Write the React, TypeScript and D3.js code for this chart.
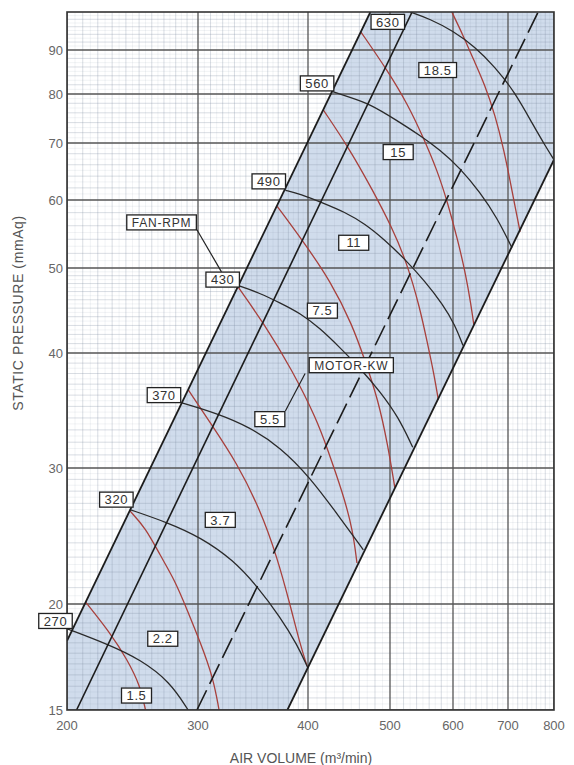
import React, { useMemo } from "react";
import * as d3 from "d3";

// ---------- axis values ----------
const xTicks = [200, 300, 400, 500, 600, 700, 800];
const yTicks = [15, 20, 30, 40, 50, 60, 70, 80, 90];
const yTop = 100;

// ---------- boundary lines [air volume, static pressure] ----------
const lineA = [[200, 18.1], [474, 100]];
const lineB = [[206, 15], [533, 100]];
const lineD = [[299, 15], [764, 100]];
const lineE = [[379, 15], [800, 66.9]];
const shadedRegion = [[200, 18.1], [474, 100], [800, 100], [800, 66.9], [379, 15], [200, 15]];

// ---------- fan curves (black) ----------
const rpm270 = [[200, 18.7], [228, 17.9], [251, 17.2], [275, 16.2], [291, 15]];
const rpm320 = [[243, 26.5], [273, 25.5], [302, 24.4], [329, 22.8], [350, 21.1], [372, 19.3], [389, 17.9], [400, 16.8]];
const rpm370 = [[285.5, 35.3], [315, 34.4], [344, 33.2], [372, 31.6], [402, 29.2], [436, 25.9], [465, 23.5]];
const rpm430 = [[332, 47.8], [353, 46.8], [372, 45.6], [392, 44.4], [413, 42.7], [436, 40.6], [461, 38.5], [487, 36.3], [512, 34.1], [534, 31.6]];
const rpm490 = [[377, 61.6], [392, 61.0], [417, 59.5], [442, 58.1], [467, 56.3], [493, 53.9], [522, 51.2], [553, 48.3], [583, 45.4], [603, 43.1], [617, 40.8]];
const rpm560 = [[426, 80.6], [448, 79.3], [474, 77.8], [507, 74.7], [545, 71.5], [578, 68.7], [612, 65.4], [647, 61.3], [679, 57.2], [708, 52.8]];
const rpm630 = [[530, 100], [561, 98.1], [600, 94.9], [638, 90.8], [675, 86.0], [714, 80.4], [753, 73.5], [779, 69.6], [800, 66.9]];

// ---------- motor power curves (red) ----------
const kw1_5 = [[212, 20.1], [228.5, 18.5], [241, 17.2], [251, 16.0], [255, 15]];
const kw2_2 = [[243, 26.4], [255, 25.1], [267, 23.1], [279, 21.5], [290, 19.7], [302, 18.0], [312, 16.4], [317, 15]];
const kw3_7 = [[291, 36.5], [311, 33.4], [332, 30.4], [353, 26.5], [369, 23.0], [382, 19.9], [392, 17.9], [399, 16.9]];
const kw5_5 = [[332, 47.8], [356, 43.3], [384, 38.3], [410, 33.8], [421, 31.6], [440, 27.8], [452, 24.9], [457, 22.6]];
const kw7_5 = [[369, 59.0], [394, 53.9], [426, 48.2], [451, 43.1], [467, 39.3], [484, 35.6], [497, 31.8], [507, 28.3]];
const kw11 = [[417, 76.6], [447, 69.1], [477, 61.6], [503, 55.7], [525, 50.7], [545, 45.1], [558, 40.8], [568, 37.9], [575, 35.6]];
const kw15 = [[462, 94.6], [497, 85.1], [527, 77.6], [550, 71.2], [573, 65.1], [591, 59.5], [608, 53.9], [622, 49.1], [631, 45.4], [636, 43.1]];
const kw18_5 = [[598, 100], [617, 93.8], [636, 87.6], [656, 82.0], [675, 75.6], [692, 68.7], [706, 62.5], [716, 58.4], [725, 55.1]];

// ---------- labels ----------
const rpmLabels = [
  { text: "630", q: 497, p: 97.3 },
  { text: "560", q: 410, p: 82.3 },
  { text: "490", q: 361, p: 63.1 },
  { text: "430", q: 320, p: 48.5 },
  { text: "370", q: 270, p: 36.0 },
  { text: "320", q: 233, p: 27.3 },
  { text: "270", q: 193, p: 19.1 },
];
const kwLabels = [
  { text: "1.5", q: 248, p: 15.6 },
  { text: "2.2", q: 269, p: 18.2 },
  { text: "3.7", q: 318, p: 25.7 },
  { text: "5.5", q: 362, p: 33.9 },
  { text: "7.5", q: 416, p: 44.7 },
  { text: "11", q: 453, p: 53.5 },
  { text: "15", q: 512, p: 68.3 },
  { text: "18.5", q: 574, p: 85.3 },
];
const calloutLabels = [
  { text: "FAN-RPM", q: 268, p: 56.5 },
  { text: "MOTOR-KW", q: 450, p: 38.8 },
];
const fanLeader = [[299, 55.4], [319, 49.5]];
const motorLeader = [[397, 38.0], [377, 34.6]];

const FONT = '"Liberation Sans", Arial, Helvetica, sans-serif';

export default function App() {
  const W = 574, H = 765;
  const x = d3.scaleLog().domain(xTicks).range([67, 198, 308, 390, 453, 508, 554]);
  const y = d3.scaleLog().domain([...yTicks, yTop]).range([710, 604, 468, 353, 268, 200, 143, 94, 50, 12]);
  const L = x(200), R = x(800), T = y(yTop), B = y(15);

  const straight = d3.line<number[]>().x((d) => x(d[0])).y((d) => y(d[1]));
  const smooth = d3.line<number[]>().x((d) => x(d[0])).y((d) => y(d[1])).curve(d3.curveBasis);

  const measure = useMemo(() => {
    const c = document.createElement("canvas").getContext("2d");
    return (t: string, size: number, ls: number) => {
      if (!c) return t.length * size * 0.6;
      c.font = `${size}px "Liberation Sans"`;
      return c.measureText(t).width + ls * t.length;
    };
  }, []);

  const isMajorX = (v: number) => xTicks.some((t) => Math.abs(t - v) < 1e-6);
  const isMajorY = (v: number) => yTicks.some((t) => Math.abs(t - v) < 1e-6);

  const xMid = [...d3.range(210, 400, 10), ...d3.range(420, 800, 20)].filter((v) => !isMajorX(v));
  const xFine = [...d3.range(205, 400, 10), ...d3.range(410, 800, 20)];
  const yMid = [...d3.range(15.5, 20, 0.5), ...d3.range(21, 50, 1), ...d3.range(52, 100, 2)].filter((v) => !isMajorY(v));
  const yFine = [...d3.range(15.25, 20, 0.5), ...d3.range(20.5, 50, 1), ...d3.range(51, 100, 2)];

  const fanCurves = [rpm270, rpm320, rpm370, rpm430, rpm490, rpm560, rpm630];
  const kwCurves = [kw1_5, kw2_2, kw3_7, kw5_5, kw7_5, kw11, kw15, kw18_5];

  const box = (lab: { text: string; q: number; p: number }, size: number, ls: number, minW: number, key: string) => {
    const w = Math.max(minW, measure(lab.text, size, ls) + 10);
    const h = 15;
    const cx = x(lab.q), cy = y(lab.p);
    return (
      <g key={key} transform={`translate(${cx},${cy})`}>
        <rect x={-w / 2} y={-h / 2} width={w} height={h} fill="#ffffff" stroke="#222" strokeWidth={1.3} />
        <text textAnchor="middle" dy="0.36em" fontSize={size} letterSpacing={ls} fill="#333" fontFamily={FONT}>
          {lab.text}
        </text>
      </g>
    );
  };

  return (
    <svg width={W} height={H} style={{ position: "absolute", left: 0, top: 0, background: "#fff" }}>
      <defs>
        <clipPath id="plotClip">
          <rect x={L} y={T} width={R - L} height={B - T} />
        </clipPath>
      </defs>
      <rect x={0} y={0} width={W} height={H} fill="#fff" />
      <g clipPath="url(#plotClip)">
        <path d={straight(shadedRegion) + "Z"} fill="#d0dcec" stroke="none" />
        {/* fine grid */}
        {xFine.map((v) => (
          <line key={"xf" + v} x1={x(v)} x2={x(v)} y1={T} y2={B} stroke="#8c99aa" strokeOpacity={0.2} strokeWidth={0.6} />
        ))}
        {yFine.map((v) => (
          <line key={"yf" + v} x1={L} x2={R} y1={y(v)} y2={y(v)} stroke="#8c99aa" strokeOpacity={0.2} strokeWidth={0.6} />
        ))}
        {/* medium grid */}
        {xMid.map((v) => (
          <line key={"xm" + v} x1={x(v)} x2={x(v)} y1={T} y2={B} stroke="#7d8ba0" strokeOpacity={0.42} strokeWidth={0.7} />
        ))}
        {yMid.map((v) => (
          <line key={"ym" + v} x1={L} x2={R} y1={y(v)} y2={y(v)} stroke="#7d8ba0" strokeOpacity={0.42} strokeWidth={0.7} />
        ))}
        {/* major grid */}
        {xTicks.map((v) => (
          <line key={"xM" + v} x1={x(v)} x2={x(v)} y1={T} y2={B} stroke="#555" strokeWidth={1.3} />
        ))}
        {yTicks.map((v) => (
          <line key={"yM" + v} x1={L} x2={R} y1={y(v)} y2={y(v)} stroke="#555" strokeWidth={1.3} />
        ))}

        {/* red motor power curves */}
        {kwCurves.map((c, i) => (
          <path key={"kw" + i} d={smooth(c) || ""} fill="none" stroke="#a8403c" strokeWidth={1.3} />
        ))}
        {/* fan curves */}
        {fanCurves.map((c, i) => (
          <path key={"rpm" + i} d={smooth(c) || ""} fill="none" stroke="#2a2a2a" strokeWidth={1.3} />
        ))}
        {/* boundary lines */}
        <path d={straight(lineA) || ""} fill="none" stroke="#1c1c1c" strokeWidth={1.8} />
        <path d={straight(lineB) || ""} fill="none" stroke="#1c1c1c" strokeWidth={1.6} />
        <path d={straight(lineD) || ""} fill="none" stroke="#1c1c1c" strokeWidth={1.6} strokeDasharray="22 7" />
        <path d={straight(lineE) || ""} fill="none" stroke="#1c1c1c" strokeWidth={1.8} />
      </g>

      {/* frame */}
      <rect x={L} y={T} width={R - L} height={B - T} fill="none" stroke="#333" strokeWidth={1.6} />

      {/* leaders */}
      <path d={straight(fanLeader) || ""} fill="none" stroke="#222" strokeWidth={1.2} />
      <path d={straight(motorLeader) || ""} fill="none" stroke="#222" strokeWidth={1.2} />

      {/* labels */}
      {rpmLabels.map((l, i) => box(l, 13, 0.6, 30, "r" + i))}
      {kwLabels.map((l, i) => box(l, 13, 0.6, 30, "k" + i))}
      {calloutLabels.map((l, i) => box(l, 12, 0.8, 30, "c" + i))}

      {/* tick labels */}
      {yTicks.map((v) => (
        <text key={"yt" + v} x={63} y={y(v)} dy="0.36em" textAnchor="end" fontSize={13} fill="#666" fontFamily={FONT}>
          {v}
        </text>
      ))}
      {xTicks.map((v) => (
        <text key={"xt" + v} x={x(v)} y={730} textAnchor="middle" fontSize={13} fill="#666" fontFamily={FONT}>
          {v}
        </text>
      ))}

      {/* axis titles */}
      <text transform={`translate(23,313) rotate(-90)`} textAnchor="middle" fontSize={14} letterSpacing={0.6} fill="#555" fontFamily={FONT}>
        STATIC PRESSURE (mmAq)
      </text>
      <text x={301} y={763} textAnchor="middle" fontSize={14} fill="#555" fontFamily={FONT}>
        AIR VOLUME (m³/min)
      </text>
    </svg>
  );
}
